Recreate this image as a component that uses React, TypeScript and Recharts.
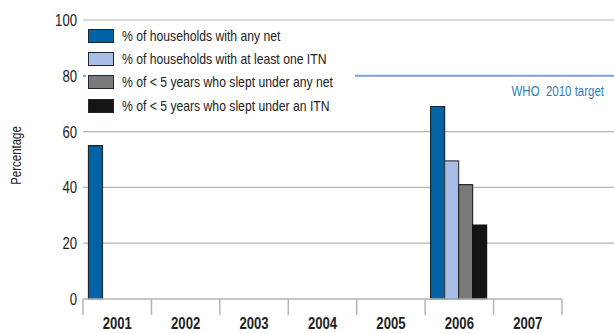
import { Bar, BarChart, CartesianGrid, Legend, ReferenceLine, XAxis, YAxis } from "recharts";

const years = ["2001", "2002", "2003", "2004", "2005", "2006", "2007"];
const anyNet = [55, null, null, null, null, 69, null];
const itnHouseholds = [null, null, null, null, null, 49.5, null];
const under5AnyNet = [null, null, null, null, null, 41, null];
const under5Itn = [null, null, null, null, null, 26.5, null];
const yTicks = [0, 20, 40, 60, 80, 100];
const whoTarget = 80;

const seriesNames = [
  "% of households with any net",
  "% of households with at least one ITN",
  "% of < 5 years who slept under any net",
  "% of < 5 years who slept under an ITN",
];

const data = years.map((year, i) => ({
  year,
  anyNet: anyNet[i],
  itnHouseholds: itnHouseholds[i],
  under5AnyNet: under5AnyNet[i],
  under5Itn: under5Itn[i],
}));

// no condensed face installed, so squeeze Arial-metric text horizontally
const FONT = "'Liberation Sans', Arial, sans-serif";
const SQ = 0.82;
const W = 614;
const H = 333;
const M = { top: 20, right: 52, bottom: 0, left: 0 };
const X_AXIS_H = 34;
const Y_AXIS_W = 83;
const BAND = (W - M.left - M.right - Y_AXIS_W) / years.length;
const GRID = "#b4b4b4";
const INK = "#222";

function YearTick(props: any) {
  const { x, y, payload, index } = props;
  const left = x - BAND / 2;
  return (
    <g>
      <line x1={left} y1={y} x2={left} y2={y + 16} stroke={GRID} strokeWidth={1.5} />
      {index === years.length - 1 && (
        <line x1={x + BAND / 2} y1={y} x2={x + BAND / 2} y2={y + 16} stroke={GRID} strokeWidth={1.5} />
      )}
      <text
        transform={`translate(${x},${y + 30}) scale(${SQ},1)`}
        textAnchor="middle"
        fontFamily={FONT}
        fontSize={16}
        fontWeight="bold"
        fill={INK}
      >
        {payload.value}
      </text>
    </g>
  );
}

function ValueTick(props: any) {
  const { x, y, payload } = props;
  return (
    <text transform={`translate(${x},${y + 6}) scale(${SQ},1)`} textAnchor="end" fontFamily={FONT} fontSize={16} fill={INK}>
      {payload.value}
    </text>
  );
}

function AxisTitle(props: any) {
  const vb = props.viewBox || {};
  const cy = (vb.y ?? M.top) + (vb.height ?? 279) / 2 - 4;
  return (
    <text
      transform={`translate(21,${cy}) rotate(-90) scale(${SQ},1)`}
      textAnchor="middle"
      fontFamily={FONT}
      fontSize={14}
      fill={INK}
    >
      Percentage
    </text>
  );
}

function GridLine(props: any) {
  // the zero line is the x axis itself, which stops at the last category
  if (props.y1 > H - X_AXIS_H - 2) return <g key={props.key} />;
  return <line key={props.key} x1={props.x1} y1={props.y1} x2={W} y2={props.y2} stroke={GRID} strokeWidth={1.2} />;
}

function TargetLine(props: any) {
  const y = props.y1 ?? props.y;
  return (
    <g>
      <line x1={props.x1} y1={y} x2={W} y2={y} stroke="#7fa7d7" strokeWidth={2} />
      <text
        transform={`translate(604,${y + 20}) scale(${SQ},1)`}
        textAnchor="end"
        fontFamily={FONT}
        fontSize={14}
        fill="#2f7fc1"
        style={{ whiteSpace: "pre" }}
      >
        WHO  2010 target
      </text>
    </g>
  );
}

function LegendBox(props: any) {
  const items = props.payload || [];
  return (
    <div style={{ background: "#fff", width: 269, fontFamily: FONT, fontSize: 14.5, color: INK, textAlign: "left" }}>
      {items.map((it: any) => (
        <div key={it.value} style={{ display: "flex", alignItems: "center", height: 23.3 }}>
          <span
            style={{
              display: "inline-block",
              flex: "none",
              width: 24,
              height: 12,
              background: it.color,
              border: "1.5px solid #1d2733",
              marginLeft: 2,
              marginRight: 8,
            }}
          />
          <span style={{ display: "inline-block", whiteSpace: "nowrap", transform: `scaleX(0.84)`, transformOrigin: "left center" }}>
            {it.value}
          </span>
        </div>
      ))}
    </div>
  );
}

export default function App() {
  const barStroke = "#1d2733";
  return (
    <div style={{ position: "absolute", left: 0, top: 0, background: "#fff" }}>
      <BarChart width={W} height={H} data={data} margin={M} barCategoryGap="8%" barGap={0}>
        <CartesianGrid vertical={false} horizontal={GridLine} />
        <XAxis
          dataKey="year"
          height={X_AXIS_H}
          tick={YearTick}
          tickLine={false}
          tickSize={0}
          tickMargin={0}
          axisLine={{ stroke: GRID, strokeWidth: 1.5 }}
          interval={0}
        />
        <YAxis
          width={Y_AXIS_W}
          domain={[0, 100]}
          ticks={yTicks}
          axisLine={false}
          tickLine={false}
          tickSize={0}
          tickMargin={6}
          tick={ValueTick}
          label={{ value: "Percentage", content: AxisTitle }}
        />
        <Legend
          layout="vertical"
          verticalAlign="middle"
          align="center"
          content={LegendBox}
          itemSorter={(item: any) => seriesNames.indexOf(item.value)}
          wrapperStyle={{ position: "absolute", top: 24, left: 86, width: 269 }}
        />
        <Bar dataKey="anyNet" name={seriesNames[0]} fill="#0063a6" stroke={barStroke} strokeWidth={1.2} isAnimationActive={false} />
        <Bar dataKey="itnHouseholds" name={seriesNames[1]} fill="#a9bee6" stroke="#3a3f48" strokeWidth={1.2} isAnimationActive={false} />
        <Bar dataKey="under5AnyNet" name={seriesNames[2]} fill="#7a7a7c" stroke="#2a2a2a" strokeWidth={1.2} isAnimationActive={false} />
        <Bar dataKey="under5Itn" name={seriesNames[3]} fill="#141414" stroke="#141414" strokeWidth={1.2} isAnimationActive={false} />
        <ReferenceLine y={whoTarget} shape={TargetLine} />
      </BarChart>
    </div>
  );
}
